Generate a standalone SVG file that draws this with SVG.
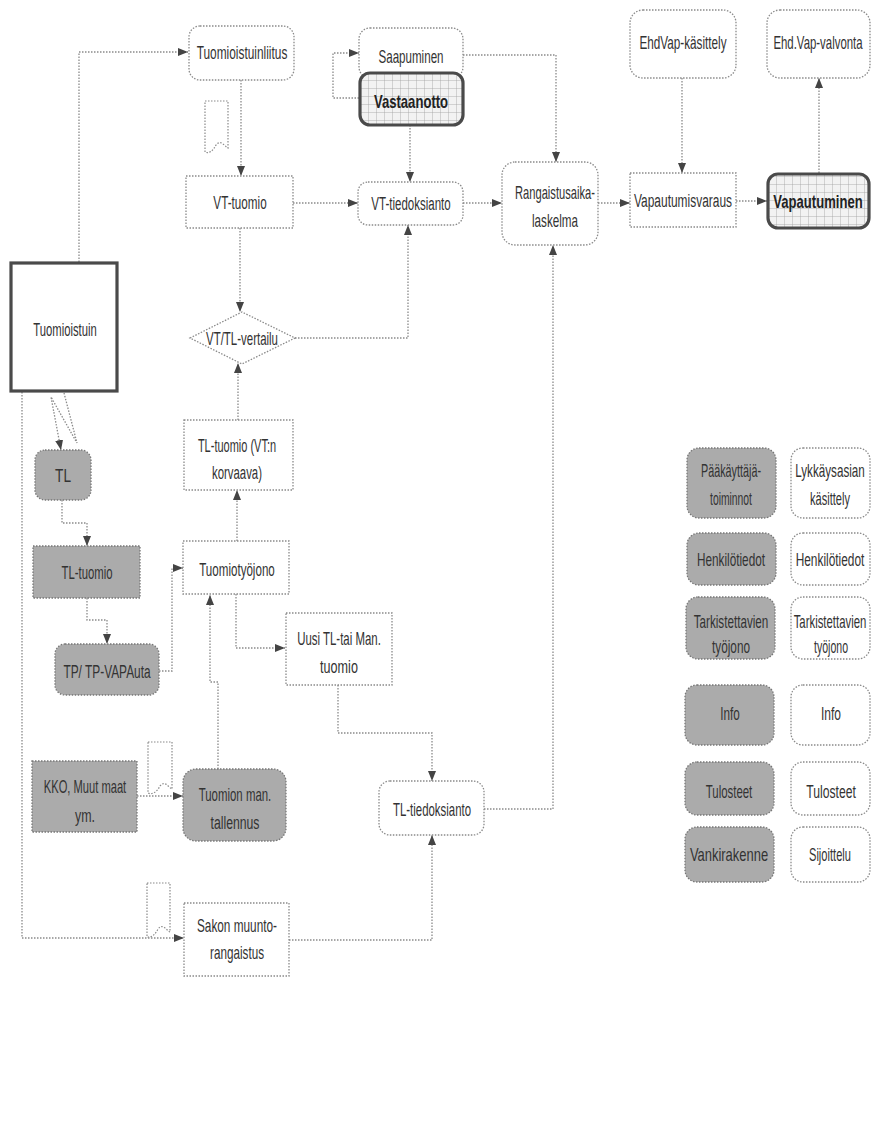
<svg xmlns="http://www.w3.org/2000/svg" width="872" height="1147" viewBox="0 0 872 1147">
<style>
.box{fill:#fff;stroke:#8a8a8a;stroke-width:1.3;stroke-dasharray:1.5 1.5}
.gray{fill:#ababab;stroke:#777;stroke-width:1.3;stroke-dasharray:1.5 1.5}
.thick{fill:url(#grid);stroke:#4a4a4a;stroke-width:3.2}
.thickw{fill:#fff;stroke:#4a4a4a;stroke-width:3.2}
.conn{fill:none;stroke:#8a8a8a;stroke-width:1.3;stroke-dasharray:1.5 1.5;marker-end:url(#arr)}
.doc{fill:#fff;stroke:#8a8a8a;stroke-width:1.2;stroke-dasharray:1.5 1.5}
text{font-family:"Liberation Sans",Arial,sans-serif;font-size:18px;fill:#333;text-anchor:middle}
.b{font-weight:bold;fill:#222}
</style>
<defs>
<marker id="arr" markerUnits="userSpaceOnUse" markerWidth="10" markerHeight="8" refX="10" refY="4" orient="auto">
<path d="M0,0 L10,4 L0,8 Z" fill="#444"/>
</marker>
<pattern id="grid" width="8" height="8" patternUnits="userSpaceOnUse">
<rect width="8" height="8" fill="#f2f2f2"/>
<path d="M0,0 H8 M0,0 V8" stroke="#a0a0a0" stroke-width="0.8"/>
</pattern>
</defs>
<rect width="872" height="1147" fill="#fff"/>

<g id="connectors">
<path class="conn" d="M79,262 V52 H188"/>
<path class="conn" d="M241,80 V176"/>
<path class="conn" d="M359,98 H333 V53 H359"/>
<path class="conn" d="M463,55 H556 V162"/>
<path class="conn" d="M410,125 V182"/>
<path class="conn" d="M293,203 H358"/>
<path class="conn" d="M463,203 H502"/>
<path class="conn" d="M598,203 H630"/>
<path class="conn" d="M736,201 H767"/>
<path class="conn" d="M682,78 V173"/>
<path class="conn" d="M819,173 V78"/>
<path class="conn" d="M240,228 V312"/>
<path class="conn" d="M295,338 H408 V225"/>
<path class="conn" d="M238,420 V363"/>
<path class="conn" d="M237,541 V490"/>
<path class="conn" d="M484,809 H553 V245"/>
<path class="conn" d="M64,393 L77,443 L51,397 L61,450"/>
<path class="conn" d="M22,392 V938 H184"/>
<path class="conn" d="M62,500 V523 H87 V546"/>
<path class="conn" d="M87,598 V620 H107 V644"/>
<path class="conn" d="M159,671 H172 V568 H183"/>
<path class="conn" d="M236,594 V648 H285"/>
<path class="conn" d="M218,769 V682 H210 V595"/>
<path class="conn" d="M137,796 H183"/>
<path class="conn" d="M338,685 V733 H432 V781"/>
<path class="conn" d="M289,940 H432 V835"/>
</g>

<g id="doc1"><path class="doc" d="M205,101 H228 V148 C224,146 221,139 216,145 C213,151 209,154 205,152 Z"/></g>
<g id="doc2"><path class="doc" d="M148,742 H172 V789 C168,787 165,780 160,786 C157,792 152,795 148,793 Z"/></g>
<g id="doc3"><path class="doc" d="M147,883 H170 V932 C166,930 163,923 158,929 C155,935 151,938 147,937 Z"/></g>

<g id="tuomioistuinliitus"><rect class="box" x="189" y="26" width="105" height="54" rx="11"/><text transform="translate(242 0) scale(0.66 1)" y="59">Tuomioistuinliitus</text></g>
<g id="saapuminen"><rect class="box" x="359" y="28" width="104" height="50" rx="11"/><text transform="translate(411 0) scale(0.644 1)" y="63">Saapuminen</text></g>
<g id="vastaanotto"><rect class="thick" x="360" y="73" width="103" height="52" rx="10"/><text class="b" transform="translate(411 0) scale(0.728 1)" y="108">Vastaanotto</text></g>
<g id="vt-tuomio"><rect class="box" x="186" y="176" width="107" height="52"/><text transform="translate(240 0) scale(0.65 1)" y="209">VT-tuomio</text></g>
<g id="vt-tiedoksianto"><rect class="box" x="358" y="182" width="105" height="43" rx="10"/><text transform="translate(411 0) scale(0.64 1)" y="210">VT-tiedoksianto</text></g>
<g id="rangaistusaikalaskelma"><rect class="box" x="502" y="162" width="96" height="83" rx="13"/><text transform="translate(555 0) scale(0.62 1)" y="199">Rangaistusaika-</text><text transform="translate(555 0) scale(0.648 1)" y="227">laskelma</text></g>
<g id="ehdvap-kasittely"><rect class="box" x="630" y="10" width="106" height="68" rx="13"/><text transform="translate(683 0) scale(0.652 1)" y="49">EhdVap-käsittely</text></g>
<g id="ehdvap-valvonta"><rect class="box" x="767" y="10" width="103" height="68" rx="13"/><text transform="translate(818 0) scale(0.634 1)" y="49">Ehd.Vap-valvonta</text></g>
<g id="vapautumisvaraus"><rect class="box" x="630" y="173" width="106" height="54"/><text transform="translate(683 0) scale(0.664 1)" y="207">Vapautumisvaraus</text></g>
<g id="vapautuminen"><rect class="thick" x="768" y="174" width="101" height="54" rx="10"/><text class="b" transform="translate(818 0) scale(0.726 1)" y="208">Vapautuminen</text></g>

<g id="tuomioistuin"><rect class="thickw" x="11" y="263" width="106" height="128"/><text transform="translate(65 0) scale(0.627 1)" y="336">Tuomioistuin</text></g>
<g id="vt-tl-vertailu"><path class="box" d="M190,338 L242,312 L295,338 L242,364 Z"/><text transform="translate(242 0) scale(0.637 1)" y="345">VT/TL-vertailu</text></g>
<g id="tl-tuomio-vtn-korvaava"><rect class="box" x="184" y="420" width="109" height="70"/><text transform="translate(237 0) scale(0.611 1)" y="452">TL-tuomio (VT:n</text><text transform="translate(237 0) scale(0.633 1)" y="479">korvaava)</text></g>

<g id="tl"><rect class="gray" x="35" y="450" width="56" height="50" rx="10"/><text transform="translate(63 0) scale(0.76 1)" y="482">TL</text></g>
<g id="tl-tuomio"><rect class="gray" x="33" y="546" width="107" height="52"/><text transform="translate(87 0) scale(0.63 1)" y="579">TL-tuomio</text></g>
<g id="tp-vapauta"><rect class="gray" x="55" y="644" width="104" height="51" rx="10"/><text transform="translate(107 0) scale(0.66 1)" y="678">TP/ TP-VAPAuta</text></g>
<g id="tuomiotyojono"><rect class="box" x="183" y="541" width="106" height="53"/><text transform="translate(237 0) scale(0.644 1)" y="576">Tuomiotyöjono</text></g>
<g id="uusi-tl"><rect class="box" x="286" y="613" width="106" height="72"/><text transform="translate(339 0) scale(0.636 1)" y="645">Uusi TL-tai Man.</text><text transform="translate(339 0) scale(0.70 1)" y="673">tuomio</text></g>
<g id="kko"><rect class="gray" x="32" y="761" width="105" height="71"/><text transform="translate(85 0) scale(0.62 1)" y="793">KKO, Muut maat</text><text transform="translate(85 0) scale(0.69 1)" y="822">ym.</text></g>
<g id="tuomion-man-tallennus"><rect class="gray" x="183" y="769" width="103" height="72" rx="13"/><text transform="translate(235 0) scale(0.635 1)" y="801">Tuomion man.</text><text transform="translate(235 0) scale(0.68 1)" y="829">tallennus</text></g>
<g id="tl-tiedoksianto"><rect class="box" x="379" y="781" width="105" height="54" rx="11"/><text transform="translate(432 0) scale(0.634 1)" y="816">TL-tiedoksianto</text></g>
<g id="sakon-muuntorangaistus"><rect class="box" x="184" y="903" width="105" height="73"/><text transform="translate(237 0) scale(0.656 1)" y="932">Sakon muunto-</text><text transform="translate(237 0) scale(0.65 1)" y="959">rangaistus</text></g>

<g id="legend-paakayttaja"><rect class="gray" x="687" y="448" width="89" height="70" rx="12"/><text transform="translate(731 0) scale(0.6 1)" y="477">Pääkäyttäjä-</text><text transform="translate(731 0) scale(0.575 1)" y="505">toiminnot</text></g>
<g id="legend-lykkays"><rect class="box" x="791" y="448" width="79" height="70" rx="12"/><text transform="translate(830 0) scale(0.648 1)" y="477">Lykkäysasian</text><text transform="translate(830 0) scale(0.615 1)" y="505">käsittely</text></g>
<g id="legend-henkilotiedot-1"><rect class="gray" x="687" y="533" width="89" height="52" rx="12"/><text transform="translate(731 0) scale(0.654 1)" y="566">Henkilötiedot</text></g>
<g id="legend-henkilotiedot-2"><rect class="box" x="791" y="533" width="79" height="52" rx="12"/><text transform="translate(830 0) scale(0.66 1)" y="566">Henkilötiedot</text></g>
<g id="legend-tarkistettavien-1"><rect class="gray" x="686" y="597" width="89" height="62" rx="12"/><text transform="translate(731 0) scale(0.65 1)" y="628">Tarkistettavien</text><text transform="translate(731 0) scale(0.655 1)" y="653">työjono</text></g>
<g id="legend-tarkistettavien-2"><rect class="box" x="791" y="597" width="79" height="62" rx="12"/><text transform="translate(830 0) scale(0.632 1)" y="628">Tarkistettavien</text><text transform="translate(831 0) scale(0.586 1)" y="653">työjono</text></g>
<g id="legend-info-1"><rect class="gray" x="685" y="685" width="89" height="60" rx="12"/><text transform="translate(730 0) scale(0.65 1)" y="720">Info</text></g>
<g id="legend-info-2"><rect class="box" x="791" y="685" width="79" height="60" rx="12"/><text transform="translate(831 0) scale(0.667 1)" y="720">Info</text></g>
<g id="legend-tulosteet-1"><rect class="gray" x="685" y="762" width="89" height="53" rx="12"/><text transform="translate(729 0) scale(0.635 1)" y="798">Tulosteet</text></g>
<g id="legend-tulosteet-2"><rect class="box" x="791" y="762" width="79" height="53" rx="12"/><text transform="translate(831 0) scale(0.676 1)" y="798">Tulosteet</text></g>
<g id="legend-vankirakenne"><rect class="gray" x="685" y="827" width="89" height="55" rx="12"/><text transform="translate(729 0) scale(0.72 1)" y="861">Vankirakenne</text></g>
<g id="legend-sijoittelu"><rect class="box" x="791" y="827" width="79" height="55" rx="12"/><text transform="translate(830 0) scale(0.618 1)" y="861">Sijoittelu</text></g>
</svg>
